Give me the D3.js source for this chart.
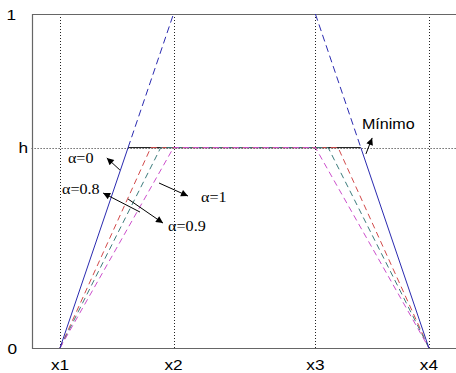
<!DOCTYPE html>
<html>
<head>
<meta charset="utf-8">
<script src="https://cdn.jsdelivr.net/npm/d3@7"></script>
<style>
  html, body { margin: 0; padding: 0; background: #fff; }
  svg { display: block; }
</style>
</head>
<body>
<svg id="chart" width="456" height="373"></svg>
<script>
// Trapezoidal membership function and its alpha-cut variants
const xTickValues = [1, 5, 10, 14];
const xTickLabels = ["x1", "x2", "x3", "x4"];
const yTickValues = [0, 0.6, 1];
const yTickLabels = ["0", "h", "1"];
const h = 0.6;

// Corners of the original trapezoid (x1,0)-(x2,1)-(x3,1)-(x4,0)
const trapezoid = [[1, 0], [5, 1], [10, 1], [14, 0]];

// Clipped curves: where each one reaches h on the rising and falling side
const alphaNames = ["α=0", "α=0.8", "α=0.9", "α=1"];
const riseAt = [3.4, 4.2, 4.55, 5];
const fallAt = [11.6, 10.8, 10.45, 10];
const curveColors = ["#2a2ab0", "#d24a4a", "#3c7c7c", "#cc4fcc"];

// Annotation label anchors and arrows (data units)
const labelPos = [[1.28, 0.554], [1.07, 0.461], [4.81, 0.349], [5.97, 0.437]];
const arrowFrom = [[3.11, 0.533], [3.82, 0.407], [3.40, 0.446], [4.49, 0.494]];
const arrowTo = [[2.65, 0.569], [2.52, 0.464], [4.63, 0.374], [5.51, 0.455]];
const minLabel = "Mínimo";
const minLabelPos = [11.64, 0.656];
const minArrow = [[11.78, 0.581], [12.0, 0.629]];

const svg = d3.select("#chart");
const x = d3.scaleLinear().domain([0, 16]).range([31.6, 31.6 + 16 * 28.38]);
const y = d3.scaleLinear().domain([0, 1]).range([348, 14]);
const line = d3.line().x(d => x(d[0])).y(d => y(d[1]));

const x0 = x(0), xR = 470;

// Dotted grid at the marked positions
svg.append("g").selectAll("line").data(xTickValues).join("line")
  .attr("x1", d => Math.round(x(d)) + 0.5).attr("x2", d => Math.round(x(d)) + 0.5)
  .attr("y1", y(1)).attr("y2", y(0))
  .attr("stroke", "#222").attr("stroke-width", 1).attr("stroke-dasharray", "1,2");
svg.append("line")
  .attr("x1", x0).attr("x2", xR)
  .attr("y1", Math.round(y(h)) + 0.5).attr("y2", Math.round(y(h)) + 0.5)
  .attr("stroke", "#222").attr("stroke-width", 1).attr("stroke-dasharray", "1,2");

// Axes box
svg.append("path")
  .attr("d", `M${xR},${y(1) + 0.5}H${Math.round(x0) + 0.5}V${y(0) + 0.5}H${xR}`)
  .attr("fill", "none").attr("stroke", "#666").attr("stroke-width", 1.2);

// Minimum curve: flat black segment at h
svg.append("path").attr("d", line([[riseAt[0], h], [fallAt[0], h]]))
  .attr("fill", "none").attr("stroke", "#111").attr("stroke-width", 1);

// Dashed clipped curves for alpha = 0.8, 0.9, 1
[1, 2, 3].forEach(i => {
  const pts = [trapezoid[0], [riseAt[i], h], [fallAt[i], h], trapezoid[3]];
  svg.append("path").attr("d", line(pts))
    .attr("fill", "none").attr("stroke", curveColors[i]).attr("stroke-width", 1)
    .attr("stroke-dasharray", "6,4");
});

// alpha = 0: solid sides up to h, dashed above h
svg.append("path").attr("d", line([trapezoid[0], [riseAt[0], h]]))
  .attr("fill", "none").attr("stroke", curveColors[0]).attr("stroke-width", 1);
svg.append("path").attr("d", line([[fallAt[0], h], trapezoid[3]]))
  .attr("fill", "none").attr("stroke", curveColors[0]).attr("stroke-width", 1);
svg.append("path").attr("d", line([[riseAt[0], h], trapezoid[1]]))
  .attr("fill", "none").attr("stroke", curveColors[0]).attr("stroke-width", 1)
  .attr("stroke-dasharray", "7,4");
svg.append("path").attr("d", line([trapezoid[2], [fallAt[0], h]]))
  .attr("fill", "none").attr("stroke", curveColors[0]).attr("stroke-width", 1)
  .attr("stroke-dasharray", "7,4");

// Arrowhead marker
svg.append("defs").append("marker")
  .attr("id", "head").attr("viewBox", "0 0 10 10")
  .attr("refX", 10).attr("refY", 5)
  .attr("markerWidth", 9).attr("markerHeight", 7)
  .attr("markerUnits", "userSpaceOnUse")
  .attr("orient", "auto")
  .append("path").attr("d", "M0,0L10,5L0,10Z").attr("fill", "#000");

function arrow(a, b) {
  svg.append("line")
    .attr("x1", x(a[0])).attr("y1", y(a[1]))
    .attr("x2", x(b[0])).attr("y2", y(b[1]))
    .attr("stroke", "#000").attr("stroke-width", 1)
    .attr("marker-end", "url(#head)");
}

function stretchedText(px, py, str, opts) {
  svg.append("text")
    .attr("transform", `translate(${px},${py}) scale(1.15,1)`)
    .attr("text-anchor", opts.anchor || "start")
    .attr("font-family", opts.family)
    .attr("font-size", opts.size)
    .attr("font-weight", opts.weight || "normal")
    .attr("fill", "#000")
    .text(str);
}

alphaNames.forEach((name, i) => {
  arrow(arrowFrom[i], arrowTo[i]);
  stretchedText(x(labelPos[i][0]), y(labelPos[i][1]), name,
    { family: "'Liberation Serif', 'DejaVu Serif', serif", size: 14 });
});

arrow(minArrow[0], minArrow[1]);
stretchedText(x(minLabelPos[0]), y(minLabelPos[1]), minLabel,
  { family: "'Liberation Sans', Arial, sans-serif", size: 14 });

// Tick labels
const sans = "'Liberation Sans', Arial, sans-serif";
xTickValues.forEach((v, i) => {
  stretchedText(x(v), 370, xTickLabels[i], { family: sans, size: 15, anchor: "middle" });
});
const yLabelRight = { "0": 17, "h": 28, "1": 16 };
yTickValues.forEach((v, i) => {
  const lbl = yTickLabels[i];
  stretchedText(yLabelRight[lbl], y(v) + 5.5, lbl, { family: sans, size: 15, anchor: "end" });
});
</script>
</body>
</html>
